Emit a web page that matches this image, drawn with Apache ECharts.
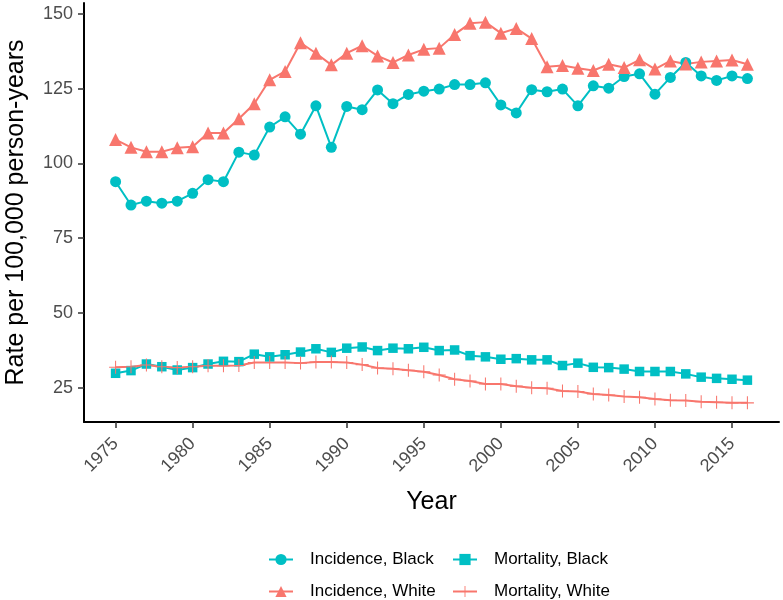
<!DOCTYPE html>
<html>
<head>
<meta charset="utf-8">
<script src="https://cdn.jsdelivr.net/npm/echarts@6/dist/echarts.min.js"></script>
<style>html,body{margin:0;padding:0;background:#fff}#c{width:783px;height:600px}</style>
</head>
<body>
<div id="c"></div>
<script>
const years = [1975,1976,1977,1978,1979,1980,1981,1982,1983,1984,1985,1986,1987,1988,1989,1990,1991,1992,1993,1994,1995,1996,1997,1998,1999,2000,2001,2002,2003,2004,2005,2006,2007,2008,2009,2010,2011,2012,2013,2014,2015,2016];
const incidenceBlack = [93.9,86.1,87.4,86.7,87.4,90.0,94.6,93.9,103.8,102.8, 112.2,115.6,109.8,119.3,105.4,119.1,118.0,124.6,120.0,123.1, 124.2,124.9,126.4,126.4,127.0,119.6,116.9,124.7,124.0,124.9, 119.3,126.0,125.2,129.1,130.0,123.2,128.8,133.8,129.3,127.8, 129.3,128.4];
const incidenceWhite = [108.0,105.4,103.9,103.9,105.3,105.6,110.2,110.2,115.0,120.0, 128.0,130.8,140.4,136.9,133.0,136.9,139.4,136.0,133.8,136.3, 138.2,138.6,143.2,146.9,147.3,143.6,145.2,141.8,132.4,132.8, 131.9,131.1,133.2,132.1,134.7,131.6,134.3,133.3,134.0,134.3, 134.6,133.2];
const mortalityBlack = [29.8,30.7,32.9,32.0,30.9,31.7,32.9,33.8,33.7,36.2, 35.3,36.0,36.9,38.0,36.8,38.2,38.6,37.4,38.2,38.0, 38.5,37.4,37.6,35.7,35.3,34.5,34.7,34.3,34.3,32.4, 33.2,31.8,31.7,31.2,30.4,30.4,30.4,29.6,28.5,28.1, 27.8,27.5];
const mortalityWhite = [31.8,32.0,32.6,32.0,31.7,32.0,32.3,32.3,32.4,33.4, 33.4,33.4,33.2,33.6,33.6,33.4,32.7,31.6,31.3,30.8, 30.3,29.2,27.8,27.2,26.2,26.2,25.5,25.0,24.8,23.9, 23.7,22.9,22.5,22.0,21.8,21.2,20.8,20.7,20.3,20.1, 19.9,19.9];
const xTicks = [1975,1980,1985,1990,1995,2000,2005,2010,2015];
const yTicks = [25,50,75,100,125,150];
const seriesNames = ['Incidence, Black','Incidence, White','Mortality, Black','Mortality, White'];

const TEAL = '#00BFC4', SALMON = '#F8766D';
const FONT = 'Liberation Sans, Arial, sans-serif';
const plusPath = 'path://M0,9.2 H20 V10.8 H0 Z M9.2,0 H10.8 V20 H9.2 Z';

function pairs(vals){ return years.map((y,i)=>[y, vals[i]]); }

function mk(name, vals, color, symbol, size){
  return {
    name, type:'line', data: pairs(vals),
    symbol, symbolSize: size, showSymbol: true,
    lineStyle:{color, width:2},
    itemStyle:{color},
    emphasis:{disabled:true},
    animation:false
  };
}

const chart = echarts.init(document.getElementById('c'), null, {renderer:'canvas'});
chart.setOption({
  backgroundColor:'#fff',
  animation:false,
  grid:{left:84, right:4, top:3, bottom:178, containLabel:false, outerBoundsMode:'none'},
  xAxis:{
    type:'value', min:1972.95, max:2018.05,
    name:'Year', nameLocation:'middle', nameGap:68,
    nameTextStyle:{fontFamily:FONT, fontSize:25, color:'#000'},
    axisLine:{onZero:false, lineStyle:{color:'#000', width:2}},
    axisTick:{show:true, length:6, lineStyle:{color:'#333', width:1.5}, customValues:xTicks},
    axisLabel:{customValues:xTicks, rotate:45, margin:19, fontFamily:FONT, fontSize:18, color:'#4d4d4d', formatter:v=>String(v)},
    splitLine:{show:false}
  },
  yAxis:{
    type:'value', min:13.5, max:153.7,
    name:'Rate per 100,000 person-years', nameLocation:'middle', nameGap:55,
    nameTextStyle:{fontFamily:FONT, fontSize:25, color:'#000'},
    axisLine:{show:true, lineStyle:{color:'#000', width:2}},
    axisTick:{show:true, length:6, lineStyle:{color:'#333', width:1.5}, customValues:yTicks},
    axisLabel:{customValues:yTicks, margin:11, fontFamily:FONT, fontSize:18, color:'#4d4d4d'},
    splitLine:{show:false}
  },
  legend:[
    {data:[seriesNames[0], seriesNames[1]], orient:'vertical', left:268, top:551, padding:0,
     itemWidth:24, itemHeight:14, itemGap:15,
     textStyle:{fontFamily:FONT, fontSize:17, color:'#000', padding:[0,0,0,12]}},
    {data:[seriesNames[2], seriesNames[3]], orient:'vertical', left:452, top:551, padding:0,
     itemWidth:24, itemHeight:14, itemGap:15,
     textStyle:{fontFamily:FONT, fontSize:17, color:'#000', padding:[0,0,0,12]}}
  ],
  series:[
    mk(seriesNames[0], incidenceBlack, TEAL, 'circle', 11),
    mk(seriesNames[1], incidenceWhite, SALMON, 'triangle', 13),
    mk(seriesNames[2], mortalityBlack, TEAL, 'rect', 9.5),
    mk(seriesNames[3], mortalityWhite, SALMON, plusPath, 13)
  ]
});
</script>
</body>
</html>
